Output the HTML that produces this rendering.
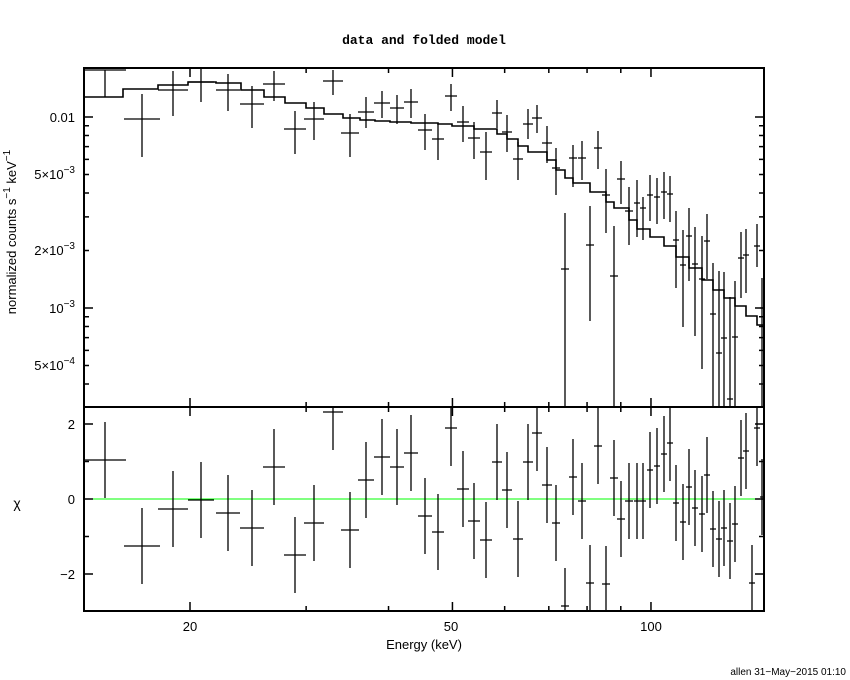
<!DOCTYPE html>
<html><head><meta charset="utf-8"><style>
html,body{margin:0;padding:0;background:#fff;}
svg{display:block;font-family:"Liberation Sans",sans-serif;}
</style></head><body>
<svg id="s" width="850" height="680" xmlns="http://www.w3.org/2000/svg">
<rect width="850" height="680" fill="#fff"/>
<text x="424" y="44" font-family="Liberation Mono,monospace" font-size="13" font-weight="bold" text-anchor="middle">data and folded model</text>
<g font-size="13" fill="#000">
<text x="75" y="122" text-anchor="end">0.01</text>
<text x="75" y="179" text-anchor="end">5×10<tspan dy="-6" font-size="10">−3</tspan></text>
<text x="75" y="255" text-anchor="end">2×10<tspan dy="-6" font-size="10">−3</tspan></text>
<text x="75" y="313" text-anchor="end">10<tspan dy="-6" font-size="10">−3</tspan></text>
<text x="75" y="370" text-anchor="end">5×10<tspan dy="-6" font-size="10">−4</tspan></text>
<text x="75" y="429" text-anchor="end">2</text>
<text x="75" y="504" text-anchor="end">0</text>
<text x="75" y="579" text-anchor="end">−2</text>
<text x="190" y="631" text-anchor="middle">20</text>
<text x="451" y="631" text-anchor="middle">50</text>
<text x="651" y="631" text-anchor="middle">100</text>
<text x="424" y="649" text-anchor="middle">Energy (keV)</text>
<text x="17" y="508" text-anchor="middle" font-size="14">χ</text>
<text transform="translate(16,232) rotate(-90)" text-anchor="middle">normalized counts s<tspan dy="-6" font-size="10">−1</tspan><tspan dy="6"> keV</tspan><tspan dy="-6" font-size="10">−1</tspan></text>
<text x="846" y="675" text-anchor="end" font-size="10">allen 31−May−2015 01:10</text>
</g>
<line x1="84" y1="499" x2="764" y2="499" stroke="#00ff00" stroke-width="1"/>
<g id="g" stroke="#000" fill="none"></g>
<rect x="84" y="68" width="680" height="339" fill="none" stroke="#000" stroke-width="2"/>
<rect x="84" y="407" width="680" height="204" fill="none" stroke="#000" stroke-width="2"/>
</svg>
<script>
(function(){
var g=document.getElementById('g'),d='',tk='';
function L(a,b,c,e){d+='M'+a+' '+b+'L'+c+' '+e;}
function T(a,b,c,e){tk+='M'+a+' '+b+'L'+c+' '+e;}
function X(v){return 190+(Math.log10(v)-Math.log10(20))*659.5;}
[20,30,40,50,60,70,80,90,100].forEach(function(v){var x=X(v),l=(v==20||v==50||v==100)?9:5;
T(x,68,x,68+l);T(x,407,x,407-l);T(x,407,x,407+l);T(x,611,x,611-l);});
function Y(v){return 117-(Math.log10(v)+2)*191;}
[4e-4,5e-4,6e-4,7e-4,8e-4,9e-4,1e-3,2e-3,3e-3,4e-3,5e-3,6e-3,7e-3,8e-3,9e-3,1e-2].forEach(function(v){var y=Y(v);if(y<70||y>405)return;var l=(v==1e-3||v==1e-2)?9:5;T(84,y,84+l,y);T(764,y,764-l,y);});
[[2,9],[1,5],[0,9],[-1,5],[-2,9]].forEach(function(a){var y=499-a[0]*37.5;T(84,y,84+a[1],y);T(764,y,764-a[1],y);});
var td=[[105,21,70,70,97],[142,18,119,94,157],[173,15,90,71,116],[201,13,82,68,102],[228,12,90,74,111],[252,12,104,86,128],[274,11,84,71,101],[295,11,129,111,154],[314,10,119,102,140],[333,10,81,70,95],[350,9,133,114,157],[366,8,112,97,128],[382,8,103,91,118],[397,7,108,95,124],[411,7,102,89,118],
[425,7,130,114,150],[438,6,139,124,160],[451,6,96,84,111],[463,6,122,106,142],[474,6,138,122,159],[486,6,152,132,180],[497,5,113,100,128],[507,5,132,115,152],[518,5,159,142,180],[528,5,124,109,139],[537,5,118,105,133],[547,5,143,126,163],[556,4,168,148,195],[565,4,269,213,407],[573,4,158,145,187],[582,4,158,141,180],[590,4,245,206,321],[598,4,148,131,169],[606,4,195,169,233],[614,4,276,226,407],[621,4,179,161,204],[629,4,211,187,245],[637,3,203,180,237],[643,3,208,197,240],[650,3,195,175,221],[657,3,197,178,224],[664,3,192,172,219],[670,3,194,176,222],[676,3,240,211,288],[683,3,265,230,327],[689,3,236,208,281],[695,3,264,227,336],[702,3,279,236,369],[707,3,241,214,279],[713,3,314,263,407],[719,3,353,271,407],[724,3,338,272,407],[730,3,399,297,407],[735,3,337,281,407],[741,3,258,232,298],[746,3,255,229,293],[757,3,246,224,267],[762,2,308,278,407]];
var hw={};
td.forEach(function(p){L(p[0]-p[1],p[2],p[0]+p[1],p[2]);L(p[0],p[3],p[0],p[4]);hw[p[0]]=p[1];});
var res=[[105,460],[142,546],[173,509],[201,500],[228,513],[252,528],[274,467],[295,555],[314,523],[333,412],[350,530],[366,480],[382,457],[397,467],[411,453],[425,516],[438,532],[451,428],[463,489],[474,521],[486,540],[497,462],[507,490],[518,539],[528,462],[537,433],[547,485],[556,523],[565,606],[573,477],[582,501],[590,583],[598,446],[606,584],[614,478],[621,519],[629,501],[637,501],[643,501],[650,470],[657,466],[664,454],[670,443],[676,503],[683,522],[689,487],[695,508],[702,514],[707,475],[713,529],[719,539],[724,528],[730,541],[735,524],[741,458],[746,451],[752,583],[757,428],[762,497]];
res.forEach(function(p){var h=hw[p[0]]||3;L(p[0]-h,p[1],p[0]+h,p[1]);L(p[0],Math.max(408,p[1]-38),p[0],Math.min(610,p[1]+38));});
var m=[[84,97],[123,89],[158,85],[188,82],[216,83],[241,90],[264,97],[285,103],[306,108],[324,114],[343,118],[360,120],[375,121],[390,122],[411,123],[425,123],[438,124],[452,126],[474,129],[497,134],[507,139],[518,146],[528,152],[547,160],[556,170],[565,178],[573,183],[590,192],[606,202],[614,208],[629,220],[637,229],[650,237],[664,246],[676,257],[689,268],[702,280],[713,290],[724,298],[735,306],[746,316],[757,325],[764,330]];
var md='M84 97';for(var i=1;i<m.length;i++){md+='H'+m[i][0]+'V'+m[i][1];}
var NS='http://www.w3.org/2000/svg';
function P(dd,w){var p=document.createElementNS(NS,'path');p.setAttribute('d',dd);p.setAttribute('stroke-width',w);p.setAttribute('stroke','#000');p.setAttribute('fill','none');g.appendChild(p);}
P(d,1.3);P(md,1.6);P(tk,1.5);
})();
</script>
</body></html>
